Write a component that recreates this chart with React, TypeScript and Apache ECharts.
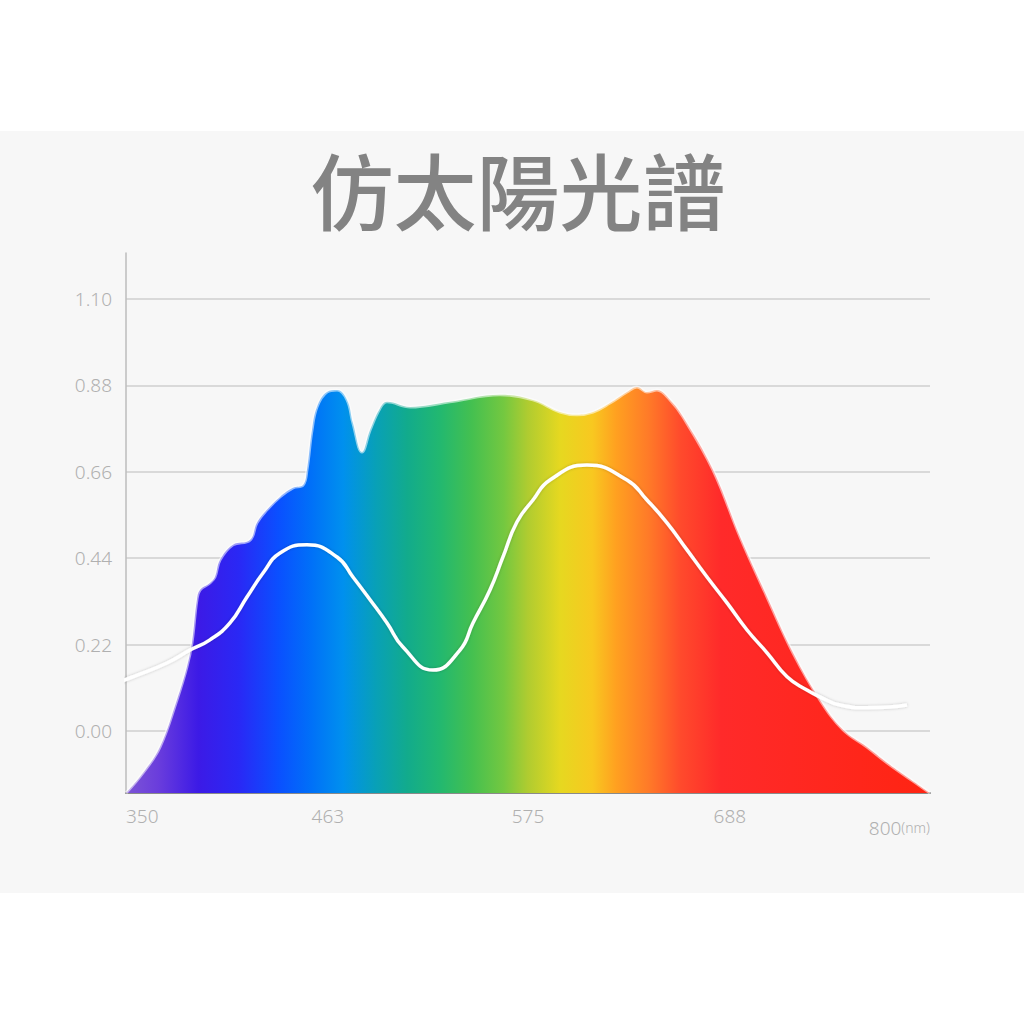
import { useEffect, useRef } from "react";
import * as echarts from "echarts";

// spectrum outline (nm, relative value)
const spectrumNm = [
  350, 359.5, 369, 378.5, 384.1, 386.9, 389.7, 391.4, 397, 399.8, 402.6, 409.9, 419.4, 423.3, 428.9, 436.2, 443.5,
  449.1, 451.3, 454.1, 456.9, 462.5, 468.1, 473.7, 477, 482.1, 486.6, 492.2, 496.1, 509, 531.3, 559.3, 577.8,
  592.9, 602.4, 611.4, 620.9, 630.4, 636, 641.6, 647.2, 654.5, 661.7, 678.5, 693.7, 708.8, 723.3, 738.4, 751.3,
  764.7, 775.9, 787.1, 800,
];
const spectrumValues = [
  -0.158, -0.107, -0.041, 0.079, 0.163, 0.224, 0.334, 0.359, 0.377, 0.392, 0.435, 0.474, 0.486, 0.53, 0.563, 0.596,
  0.619, 0.626, 0.665, 0.766, 0.825, 0.863, 0.868, 0.843, 0.784, 0.71, 0.766, 0.822, 0.838, 0.825, 0.838, 0.856,
  0.843, 0.812, 0.805, 0.812, 0.835, 0.863, 0.876, 0.863, 0.868, 0.843, 0.8, 0.665, 0.494, 0.341, 0.199, 0.079,
  0.003, -0.041, -0.081, -0.117, -0.158,
];

// white reference curve
const curveNm = [
  339.4, 353.9, 372.9, 385.8, 397, 408.2, 417.7, 426.7, 436.2, 451.3, 468.1, 477, 486.6, 496.1, 505, 521.8, 536.9,
  544.2, 553.7, 561, 568.8, 577.8, 587.3, 608, 630.4, 641.6, 652.8, 664, 675.2, 686.4, 697.6, 708.8, 720, 731.1,
  738.4, 749.6, 764.7, 777.6, 787.1,
];
const curveValues = [
  0.112, 0.138, 0.173, 0.206, 0.232, 0.275, 0.341, 0.402, 0.453, 0.474, 0.443, 0.392, 0.334, 0.275, 0.214, 0.155,
  0.206, 0.275, 0.359, 0.443, 0.532, 0.588, 0.639, 0.677, 0.639, 0.588, 0.53, 0.461, 0.392, 0.326, 0.257, 0.199,
  0.138, 0.104, 0.087, 0.066, 0.059, 0.061, 0.066,
];

const yTicks = [0, 0.22, 0.44, 0.66, 0.88, 1.1];
const xTicks = [350, 463, 575, 688, 800];
const title = "仿太陽光譜";

export default function App() {
  const ref = useRef<HTMLDivElement>(null);

  useEffect(() => {
    if (!ref.current) return;
    const chart = echarts.init(ref.current, null, { renderer: "svg" });

    const rainbow = new echarts.graphic.LinearGradient(0, 0, 1, 0, [
      { offset: 0, color: "#7d55d6" },
      { offset: 0.04, color: "#6a3ddc" },
      { offset: 0.09, color: "#3c1ae6" },
      { offset: 0.14, color: "#2a28f5" },
      { offset: 0.19, color: "#0a50ff" },
      { offset: 0.23, color: "#0070f8" },
      { offset: 0.27, color: "#0090ee" },
      { offset: 0.31, color: "#08a0b8" },
      { offset: 0.35, color: "#12ab8c" },
      { offset: 0.39, color: "#22b870" },
      { offset: 0.43, color: "#44c050" },
      { offset: 0.47, color: "#74c840" },
      { offset: 0.5, color: "#b0cc30" },
      { offset: 0.54, color: "#e6d820" },
      { offset: 0.58, color: "#f8c820" },
      { offset: 0.61, color: "#ffa020" },
      { offset: 0.65, color: "#ff7a28" },
      { offset: 0.69, color: "#ff4a2c" },
      { offset: 0.74, color: "#ff2a2a" },
      { offset: 1, color: "#ff2412" },
    ]);

    const labelColor = "#b0b0b0";
    const font = "'Noto Sans', sans-serif";

    chart.setOption({
      animation: false,
      graphic: [
        {
          type: "text",
          x: 518,
          y: 188,
          style: {
            text: title,
            fill: "#838383",
            fontSize: 83,
            fontWeight: 500,
            fontFamily: "'Noto Sans CJK TC', 'Noto Sans CJK SC', sans-serif",
            textAlign: "center",
            textVerticalAlign: "middle",
          },
        },
      ],
      grid: { left: 126, right: 94, top: 253, bottom: 231 },
      xAxis: {
        type: "value",
        min: 350,
        max: 800,
        axisLine: { show: true, onZero: false, lineStyle: { color: "#8a8a8a", width: 2 } },
        axisTick: { show: false },
        splitLine: { show: false },
        axisLabel: {
          customValues: xTicks,
          color: labelColor,
          fontSize: 19,
          fontWeight: 300,
          fontFamily: font,
          margin: 13,
          alignMinLabel: "left",
          alignMaxLabel: "right",
          formatter: (v: number) => (v === 800 ? "{a|800}{b|(nm)}" : String(v)),
          rich: {
            a: { fontSize: 19, fontWeight: 300, color: labelColor, fontFamily: font, padding: [12, 0, 0, 0] },
            b: { fontSize: 14, fontWeight: 300, color: labelColor, fontFamily: font, padding: [12, 0, 0, 0] },
          },
        },
      },
      yAxis: {
        type: "value",
        min: -0.158,
        max: 1.217,
        axisLine: { show: true, lineStyle: { color: "#bdbdbd", width: 1.5 } },
        axisTick: { show: false, customValues: yTicks },
        splitLine: { show: true, lineStyle: { color: "#cfcfcf", width: 1.5 } },
        axisLabel: {
          customValues: yTicks,
          color: labelColor,
          fontSize: 19,
          fontWeight: 300,
          fontFamily: font,
          margin: 14,
          formatter: (v: number) => v.toFixed(2),
        },
      },
      series: [
        {
          type: "line",
          data: spectrumNm.map((x, i) => [x, spectrumValues[i]]),
          smooth: 0.4,
          symbol: "none",
          z: 3,
          lineStyle: { color: "rgba(255,255,255,0.55)", width: 3 },
          areaStyle: { color: rainbow, opacity: 1, origin: "start" },
        },
        {
          type: "line",
          data: curveNm.map((x, i) => [x, curveValues[i]]),
          smooth: 0.5,
          symbol: "none",
          clip: false,
          z: 4,
          lineStyle: {
            color: "#ffffff",
            width: 3.5,
            shadowColor: "rgba(0,0,0,0.22)",
            shadowBlur: 3,
          },
        },
      ],
    });

    return () => chart.dispose();
  }, []);

  return (
    <div style={{ position: "absolute", left: 0, top: 0, width: 1024, height: 1024, background: "#ffffff" }}>
      <div style={{ position: "absolute", left: 0, top: 131, width: 1024, height: 762, background: "#f7f7f7" }} />
      <div ref={ref} style={{ position: "absolute", left: 0, top: 0, width: 1024, height: 1024 }} />
    </div>
  );
}
